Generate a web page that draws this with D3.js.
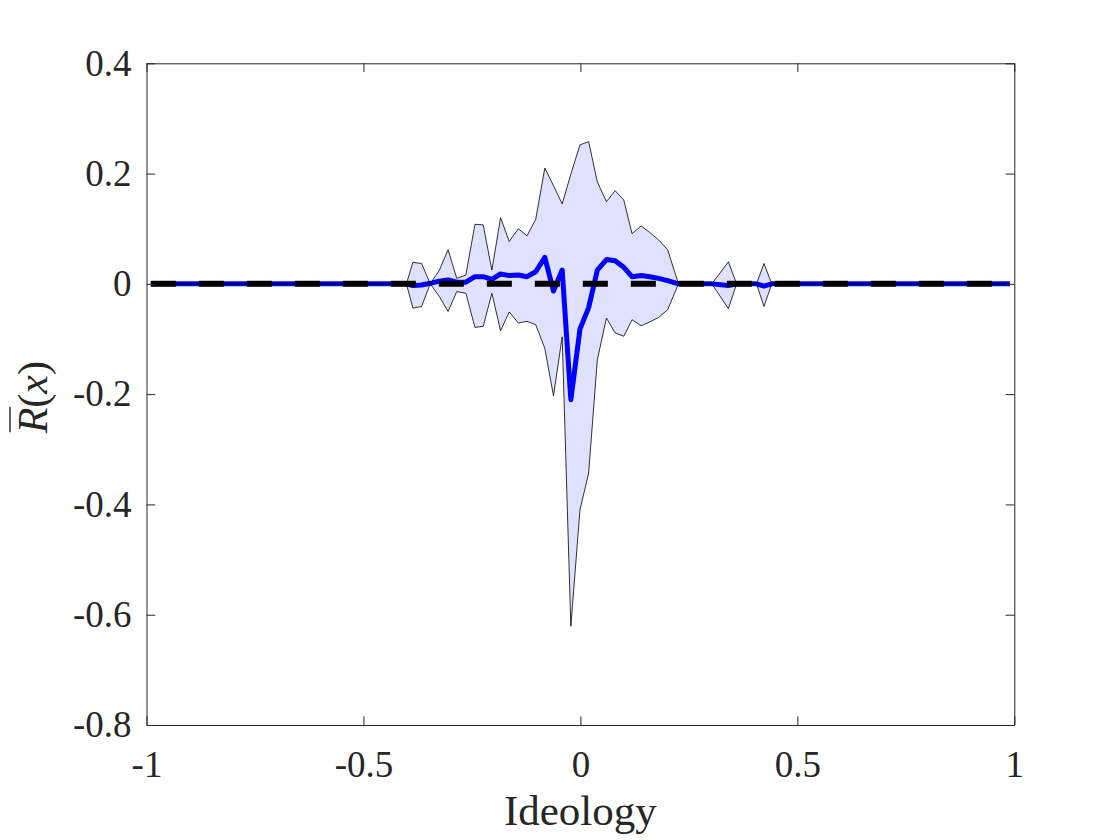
<!DOCTYPE html>
<html>
<head>
<meta charset="utf-8">
<script src="https://cdn.jsdelivr.net/npm/d3@7"></script>
<style>
body { margin: 0; background: #fff; }
</style>
</head>
<body>
<script>
// sample positions (ideology) and the three series
var xs = [-0.99, -0.401, -0.386, -0.366, -0.346, -0.325, -0.305, -0.285, -0.264, -0.243,
	-0.224, -0.204, -0.184, -0.164, -0.143, -0.123, -0.103, -0.082, -0.062, -0.042,
	-0.022, -0.001, 0.019, 0.039, 0.060, 0.080, 0.100, 0.119, 0.140, 0.160,
	0.180, 0.201, 0.226, 0.303, 0.341, 0.360, 0.406, 0.423, 0.441, 0.99];
var upper = [0, 0, 0.039, 0.037, 0, 0.025, 0.062, 0.010, 0.016, 0.108,
	0.107, 0.025, 0.120, 0.077, 0.100, 0.087, 0.117, 0.210, 0.178, 0.145,
	0.199, 0.252, 0.258, 0.185, 0.149, 0.169, 0.152, 0.091, 0.105, 0.093,
	0.080, 0.062, 0, 0, 0.040, 0, 0, 0.037, 0, 0];
var lower = [0, 0, -0.044, -0.041, 0, -0.023, -0.050, -0.014, -0.017, -0.079,
	-0.077, -0.017, -0.085, -0.051, -0.071, -0.068, -0.074, -0.117, -0.203, -0.096,
	-0.621, -0.410, -0.343, -0.138, -0.062, -0.089, -0.095, -0.065, -0.076, -0.069,
	-0.061, -0.047, 0, 0, -0.045, 0, 0, -0.041, 0, 0];
var mean = [0, 0, -0.003, -0.002, 0.001, 0.005, 0.007, 0.003, 0.003, 0.013,
	0.013, 0.008, 0.018, 0.015, 0.016, 0.013, 0.022, 0.048, -0.013, 0.025,
	-0.210, -0.082, -0.043, 0.025, 0.044, 0.042, 0.030, 0.013, 0.015, 0.013,
	0.010, 0.006, 0, 0, -0.003, 0, 0, -0.004, 0, 0];

// dashed reference line
var refX = [-0.99, 0.99];
var refY = [0, 0];

var xTicks = [-1, -0.5, 0, 0.5, 1];
var xTickLabels = ["-1", "-0.5", "0", "0.5", "1"];
var yTicks = [-0.8, -0.6, -0.4, -0.2, 0, 0.2, 0.4];
var yTickLabels = ["-0.8", "-0.6", "-0.4", "-0.2", "0", "0.2", "0.4"];

(function(){
	var W = 1120, H = 840,
		left = 146.5, right = 1014.3, top = 63.3, bottom = 725,
		axisCol = "#262626", font = "'Liberation Serif', 'Times New Roman', serif";

	var svg = d3.select("body").append("svg")
		.attr("width", W)
		.attr("height", H);

	var x = d3.scaleLinear().domain([-1, 1]).range([left, right]),
		y = d3.scaleLinear().domain([-0.8, 0.4]).range([bottom, top]);

	var idx = d3.range(xs.length);

	// mean line
	var line = d3.line()
		.x(function(i){ return x(xs[i]); })
		.y(function(i){ return y(mean[i]); });
	svg.append("path")
		.datum(idx)
		.attr("d", line)
		.attr("fill", "none")
		.attr("stroke", "#0000ff")
		.attr("stroke-width", 5)
		.attr("stroke-linejoin", "round");

	// confidence band
	var area = d3.area()
		.x(function(i){ return x(xs[i]); })
		.y0(function(i){ return y(lower[i]); })
		.y1(function(i){ return y(upper[i]); });
	svg.append("path")
		.datum(idx)
		.attr("d", area)
		.attr("fill", "rgba(0,0,255,0.12)")
		.attr("stroke", "#000")
		.attr("stroke-width", 0.8)
		.attr("stroke-linejoin", "miter");

	// black dashed zero line
	svg.append("path")
		.datum(d3.range(refX.length))
		.attr("d", d3.line()
			.x(function(i){ return x(refX[i]); })
			.y(function(i){ return y(refY[i]); }))
		.attr("fill", "none")
		.attr("stroke", "#000")
		.attr("stroke-width", 6)
		.attr("stroke-dasharray", "25,23");

	// axes (ticks point inward on all four sides)
	var tk = -8.7;
	var gB = svg.append("g")
		.attr("transform", "translate(0," + bottom + ")")
		.call(d3.axisBottom(x).tickValues(xTicks)
			.tickFormat(function(d, i){ return xTickLabels[i]; })
			.tickSizeInner(tk).tickSizeOuter(0).tickPadding(26));
	var gL = svg.append("g")
		.attr("transform", "translate(" + left + ",0)")
		.call(d3.axisLeft(y).tickValues(yTicks)
			.tickFormat(function(d, i){ return yTickLabels[i]; })
			.tickSizeInner(tk).tickSizeOuter(0).tickPadding(15));
	var gT = svg.append("g")
		.attr("transform", "translate(0," + top + ")")
		.call(d3.axisTop(x).tickValues(xTicks).tickFormat("")
			.tickSizeInner(tk).tickSizeOuter(0));
	var gR = svg.append("g")
		.attr("transform", "translate(" + right + ",0)")
		.call(d3.axisRight(y).tickValues(yTicks).tickFormat("")
			.tickSizeInner(tk).tickSizeOuter(0));

	[gB, gL, gT, gR].forEach(function(g){
		g.attr("color", axisCol)
			.attr("font-family", font)
			.attr("font-size", 37);
		g.selectAll("line, path").attr("stroke-width", 1);
	});

	// x label
	svg.append("text")
		.attr("x", (left + right) / 2)
		.attr("y", 825)
		.attr("text-anchor", "middle")
		.attr("font-family", font)
		.attr("font-size", 43)
		.attr("fill", axisCol)
		.text("Ideology");

	// y label: R-bar(x)
	var gy = svg.append("g")
		.attr("transform", "translate(47," + ((top + bottom) / 2 + 3) + ") rotate(-90)");
	var yl = gy.append("text")
		.attr("text-anchor", "middle")
		.attr("font-family", font)
		.attr("font-size", 42)
		.attr("fill", axisCol);
	yl.append("tspan").attr("font-style", "italic").text("R");
	yl.append("tspan").text("(");
	yl.append("tspan").attr("font-style", "italic").text("x");
	yl.append("tspan").text(")");

	var ext = yl.node().getExtentOfChar(0);
	gy.append("line")
		.attr("x1", ext.x + 1)
		.attr("x2", ext.x + ext.width + 1)
		.attr("y1", -37)
		.attr("y2", -37)
		.attr("stroke", axisCol)
		.attr("stroke-width", 1.4);
})();
</script>
</body>
</html>
